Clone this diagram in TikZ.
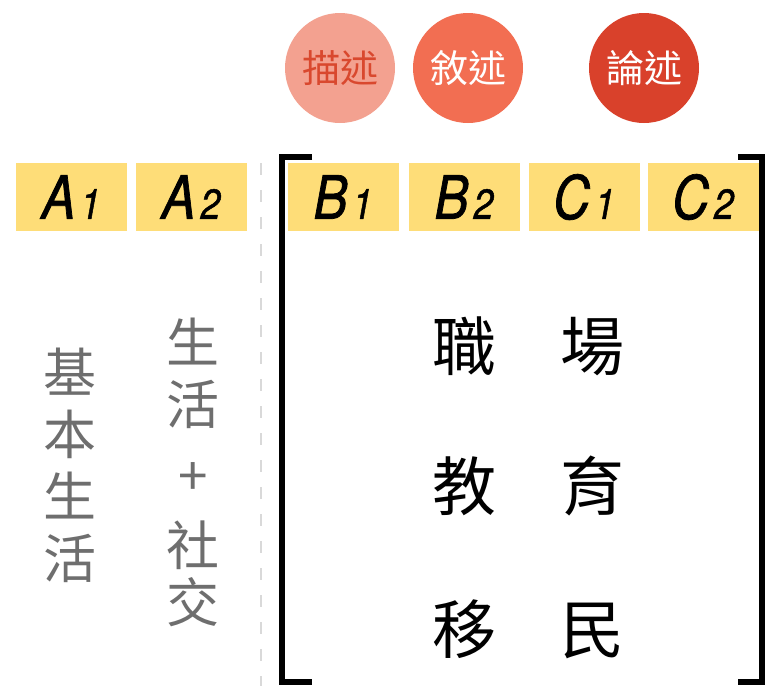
\documentclass[tikz,border=0pt]{standalone}
\usepackage{fontspec}
\newfontfamily\lvlfont{TeX Gyre Heros}[FakeStretch=0.85, FakeBold=1.2]
\newfontfamily\cjk{Noto Sans CJK TC}
\usepackage{tikz}
\definecolor{lvlyellow}{HTML}{FEDD78}
\definecolor{descfill}{HTML}{F3A190}
\definecolor{desctext}{HTML}{D9482E}
\definecolor{narrfill}{HTML}{F26E52}
\definecolor{argfill}{HTML}{D9412B}
\definecolor{softgray}{HTML}{6E6E6E}
\newcommand{\lvl}[2]{\lvlfont\itshape\fontsize{60}{60}\selectfont #1\kern5pt\fontsize{42}{42}\selectfont #2}

\begin{document}
\begin{tikzpicture}[x=1pt, y=-1pt,
        levelbox/.style={fill=lvlyellow, minimum width=111pt, minimum height=68pt, inner sep=0pt},
        mode/.style={circle, minimum size=110pt, inner sep=0pt, font=\cjk\fontsize{38}{38}\selectfont},
        basic/.style={text=softgray, align=center, font=\cjk\fontsize{53}{62}\selectfont},
        topic/.style={font=\cjk\fontsize{64}{64}\selectfont}]
        \useasboundingbox (0,0) rectangle (769,686);
        \node[mode, fill=descfill, text=desctext] (desc) at (340,68){描述};
        \node[mode, fill=narrfill, text=white] (narr) at (468,68){敘述};
        \node[mode, fill=argfill, text=white] (argu) at (644,68){論述};
        \draw[gray!30, line width=2.5pt, dash pattern=on 12pt off 15pt](261,163)--(261,686);
        \node[levelbox] (a1) at (71,197){\lvl{A}{1}};
        \node[levelbox] (a2) at (191,197){\lvl{A}{2}};
        \node[levelbox] (b1) at (343,197){\lvl{B}{1}};
        \node[levelbox] (b2) at (464,197){\lvl{B}{2}};
        \node[levelbox] (c1) at (584,197){\lvl{C}{1}};
        \node[levelbox] (c2) at (703,197){\lvl{C}{2}};
        \draw[line width=6pt](312,157) -| (282,682) -- (312,682);
        \draw[line width=6pt](738,157) -| (762,682) -- (738,682);
        \node[basic] (life) at (70,465){基\\本\\生\\活};
        \node[basic] (social) at (193,472){生\\活\\[9pt]+\\[8pt]社\\[-5pt]交};
        \node[topic] (job) at (528,346){職　場};
        \node[topic] (edu) at (528,486){教　育};
        \node[topic] (mig) at (528,629){移　民};
    \end{tikzpicture}
\end{document}
